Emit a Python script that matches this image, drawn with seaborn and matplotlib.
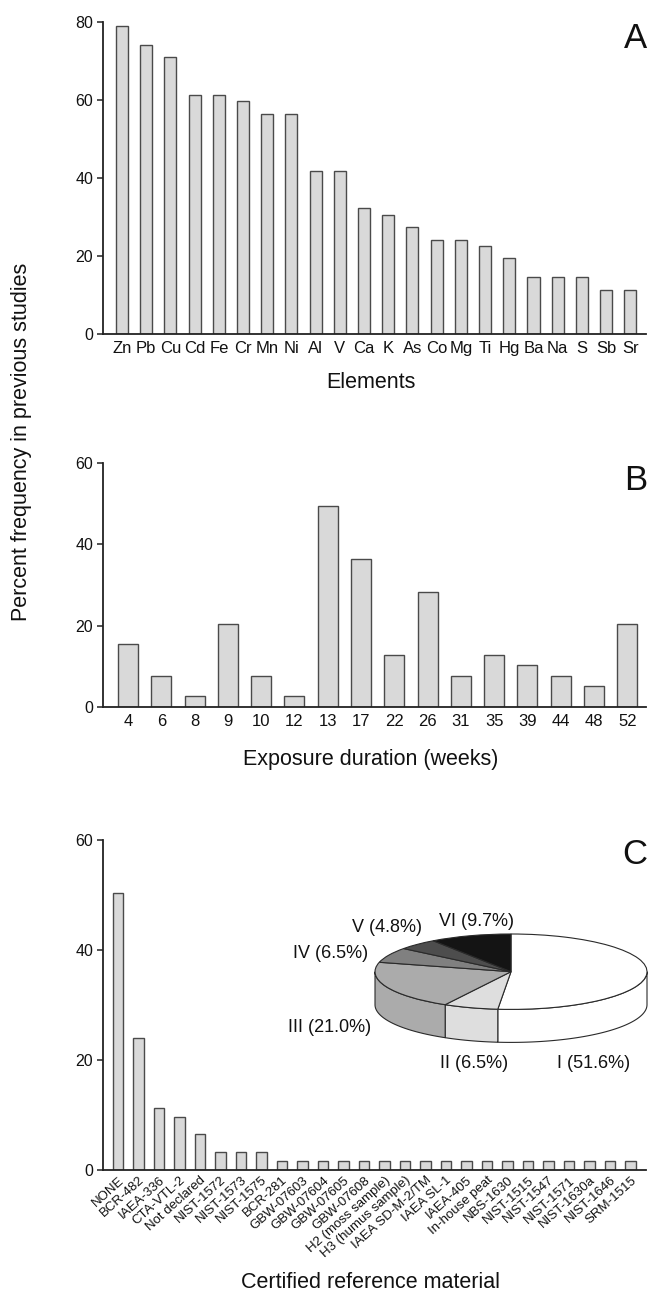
import matplotlib
matplotlib.use("Agg")
import matplotlib.pyplot as plt
import seaborn as sns
import numpy as np
from matplotlib.patches import Polygon

# ---------------- data ----------------
elements = ["Zn", "Pb", "Cu", "Cd", "Fe", "Cr", "Mn", "Ni", "Al", "V", "Ca",
            "K", "As", "Co", "Mg", "Ti", "Hg", "Ba", "Na", "S", "Sb", "Sr"]
element_pct = [79.0, 74.2, 71.0, 61.3, 61.3, 59.7, 56.5, 56.5, 41.9, 41.9, 32.3,
               30.6, 27.4, 24.2, 24.2, 22.6, 19.4, 14.5, 14.5, 14.5, 11.3, 11.3]

weeks = ["4", "6", "8", "9", "10", "12", "13", "17", "22", "26", "31", "35",
         "39", "44", "48", "52"]
week_pct = [15.4, 7.7, 2.6, 20.5, 7.7, 2.6, 49.4, 36.4, 12.8, 28.4, 7.7, 12.8,
            10.3, 7.7, 5.1, 20.5]

crm = ["NONE", "BCR-482", "IAEA-336", "CTA-VTL-2", "Not declared", "NIST-1572",
       "NIST-1573", "NIST-1575", "BCR-281", "GBW-07603", "GBW-07604",
       "GBW-07605", "GBW-07608", "H2 (moss sample)", "H3 (humus sample)",
       "IAEA SD-M-2/TM", "IAEA SL-1", "IAEA-405", "In-house peat", "NBS-1630",
       "NIST-1515", "NIST-1547", "NIST-1571", "NIST-1630a", "NIST-1646",
       "SRM-1515"]
crm_pct = [50.4, 24.0, 11.2, 9.6, 6.5, 3.2, 3.2, 3.2, 1.6, 1.6, 1.6, 1.6, 1.6,
           1.6, 1.6, 1.6, 1.6, 1.6, 1.6, 1.6, 1.6, 1.6, 1.6, 1.6, 1.6, 1.6]

pie_labels = ["I (51.6%)", "II (6.5%)", "III (21.0%)", "IV (6.5%)",
              "V (4.8%)", "VI (9.7%)"]
pie_pct = [51.6, 6.5, 21.0, 6.5, 4.8, 9.7]

# ---------------- style ----------------
sns.set_style("ticks")
plt.rcParams["font.family"] = ["Liberation Sans", "DejaVu Sans"]

W, H = 649, 1300
fig = plt.figure(figsize=(W / 100, H / 100), dpi=100)
fig.patch.set_facecolor("white")

BAR = "#d9d9d9"
EDGE = "#4a4a4a"
AXC = "#222222"
TXT = "#111111"


def rect(x0, x1, ytop, ybot):
    return [x0 / W, 1 - ybot / H, (x1 - x0) / W, (ybot - ytop) / H]


def style(ax, ymax, step, xlim, xlabel, label_y_px, ax_rect_px):
    ax.set_ylim(0, ymax)
    ax.set_yticks(np.arange(0, ymax + 1, step))
    ax.set_xlim(*xlim)
    sns.despine(ax=ax)
    for s in ("left", "bottom"):
        ax.spines[s].set_linewidth(1.3)
        ax.spines[s].set_color(AXC)
    ax.tick_params(axis="y", length=4, width=1.1, pad=3, labelsize=11.5,
                   color=AXC, labelcolor=TXT)
    ax.tick_params(axis="x", length=0, pad=5, labelsize=12, labelcolor=TXT)
    ax.set_ylabel("")
    ax.set_xlabel(xlabel, fontsize=15.5, color=TXT)
    x0, x1, yt, yb = ax_rect_px
    ax.xaxis.set_label_coords(0.5 - 4 / (x1 - x0), (yb - label_y_px) / (yb - yt))
    ax.xaxis.label.set_va("center")


# ---------------- panel A ----------------
rA = (103, 646, 22, 334)
axA = fig.add_axes(rect(*rA))
sns.barplot(x=elements, y=element_pct, ax=axA, color=BAR, saturation=1,
            edgecolor=EDGE, linewidth=1.0, width=0.5)
style(axA, 80, 20, (-0.785, 21.65), "Elements", 382, rA)

# ---------------- panel B ----------------
rB = (103, 646, 463, 707)
axB = fig.add_axes(rect(*rB))
sns.barplot(x=weeks, y=week_pct, order=weeks, ax=axB, color=BAR, saturation=1,
            edgecolor=EDGE, linewidth=1.0, width=0.6)
style(axB, 60, 20, (-0.75, 15.56), "Exposure duration (weeks)", 760, rB)

# ---------------- panel C ----------------
rC = (103, 646, 840, 1170)
axC = fig.add_axes(rect(*rC))
sns.barplot(x=crm, y=crm_pct, order=crm, ax=axC, color=BAR, saturation=1,
            edgecolor=EDGE, linewidth=1.0, width=0.52)
style(axC, 60, 20, (-0.73, 25.76), "Certified reference material", 1282, rC)
axC.tick_params(axis="x", labelsize=9.5, labelrotation=42, pad=3)
for lbl in axC.get_xticklabels():
    lbl.set_ha("right")
    lbl.set_rotation_mode("anchor")

# ---------------- panel letters & shared y label ----------------
for letter, ypx in (("A", 38), ("B", 480), ("C", 855)):
    fig.text(647 / W, 1 - ypx / H, letter, ha="right", va="center",
             fontsize=25, color=TXT)
fig.text(22 / W, 1 - 442 / H, "Percent frequency in previous studies",
         rotation=90, ha="center", va="center", fontsize=15.5, color=TXT)

# ---------------- 3-D style pie inset ----------------
pie_colors = ["#ffffff", "#dedede", "#ababab", "#808080", "#4d4d4d", "#141414"]
PE = "#2a2a2a"
cx, cy, a, b, depth = 511, 971.7, 136, 37.7, 33
dd = depth / b
xl = (-1.1, 1.1)
yl = (-1 - dd - 0.1, 1.1)
left_px = cx + xl[0] * a
width_px = (xl[1] - xl[0]) * a
top_px = cy - yl[1] * b
height_px = (yl[1] - yl[0]) * b
axP = fig.add_axes([left_px / W, 1 - (top_px + height_px) / H,
                    width_px / W, height_px / H])
wedges, _ = axP.pie(pie_pct, colors=pie_colors, startangle=90,
                    counterclock=False,
                    wedgeprops=dict(edgecolor=PE, linewidth=0.8))
axP.set_aspect("auto")
axP.set_xlim(*xl)
axP.set_ylim(*yl)
axP.axis("off")
for w, c in zip(wedges, pie_colors):
    t1, t2 = w.theta1, w.theta2
    for k in (-720, -360, 0, 360):
        s = max(t1, 180 + k)
        e = min(t2, 360 + k)
        if e > s:
            t = np.radians(np.linspace(s, e, 80))
            xs, ys = np.cos(t), np.sin(t)
            poly = np.column_stack([np.r_[xs, xs[::-1]],
                                    np.r_[ys, ys[::-1] - dd]])
            axP.add_patch(Polygon(poly, closed=True, facecolor=c,
                                  edgecolor=PE, lw=0.8, zorder=0.5))

label_pos = [(594, 1064), (474, 1064), (330, 1027), (331, 953), (387, 927),
             (476, 921)]
for txt, (px, py) in zip(pie_labels, label_pos):
    fig.text(px / W, 1 - py / H, txt, ha="center", va="center",
             fontsize=13, color=TXT)

fig.savefig("out.png", dpi=100, facecolor="white")
